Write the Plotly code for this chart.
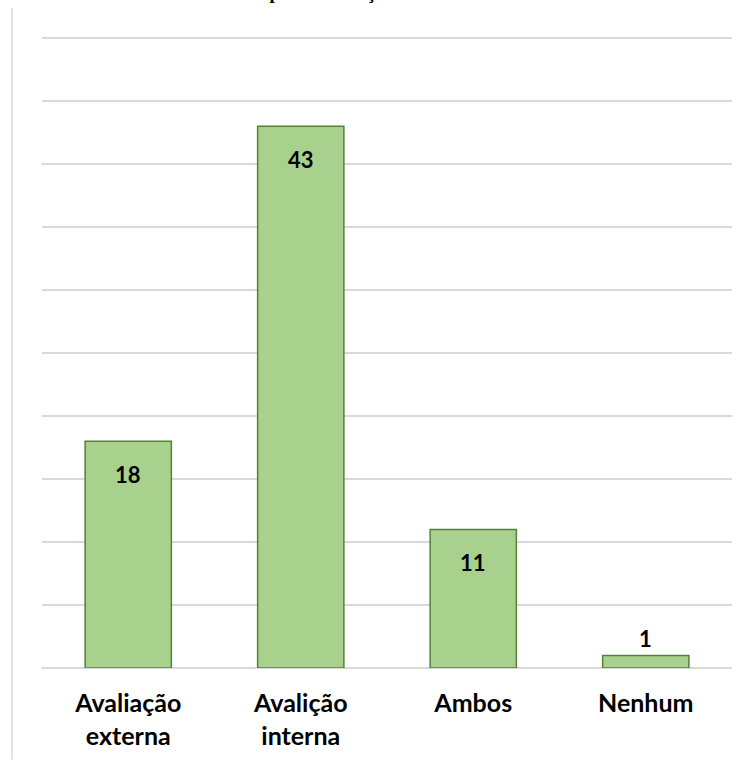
import plotly.graph_objects as go

# Categories and counts
categories = ["Avaliação<br>externa", "Avalição<br>interna", "Ambos", "Nenhum"]
counts = [18, 43, 11, 1]
label_inside = [True, True, True, False]

W, H = 747, 762
ml, mr, mt, mb = 42, 15, 37, 92
plot_h = H - mt - mb
plot_w = W - ml - mr
y_top = 50.08

fig = go.Figure(
    go.Bar(
        x=categories,
        y=counts,
        marker=dict(color="#A9D18E", line=dict(color="#548235", width=1.5)),
        hoverinfo="skip",
    )
)

# Value labels: inside near the bar top, or just above a short bar
for cat, val, inside in zip(categories, counts, label_inside):
    fig.add_annotation(
        x=cat, y=val, text=f"<b>{val}</b>",
        showarrow=False,
        yanchor="top" if inside else "bottom",
        yshift=-18 if inside else 1,
        font=dict(family="Lato", size=22, color="#000000"),
    )

# Chart frame line on the left
fig.add_shape(
    type="line", xref="paper", yref="paper",
    x0=(12 - ml) / plot_w, x1=(12 - ml) / plot_w,
    y0=-mb / plot_h, y1=(H - mb - 8) / plot_h,
    line=dict(color="#d9d9d9", width=1.5),
)

# Chart title
fig.add_annotation(
    text="<b>Tipo de avaliação</b>",
    xref="paper", yref="paper",
    x=(250 - ml) / plot_w, y=(H - mb - 5) / plot_h,
    xanchor="left", yanchor="bottom",
    showarrow=False,
    font=dict(family="Liberation Serif", size=19, color="#000000"),
)

fig.update_layout(
    width=W, height=H,
    margin=dict(l=ml, r=mr, t=mt, b=mb),
    paper_bgcolor="#ffffff",
    plot_bgcolor="#ffffff",
    bargap=0.5,
    showlegend=False,
)
fig.update_xaxes(
    showgrid=False, showline=False, ticks="",
    tickfont=dict(family="Lato", size=25, color="#000000"),
    tickprefix="<b>", ticksuffix="</b>",
    ticklabelstandoff=18,
)
fig.update_yaxes(
    range=[0, y_top], dtick=5, showticklabels=False,
    showgrid=True, gridcolor="#d9d9d9", gridwidth=1.5,
    zeroline=True, zerolinecolor="#d9d9d9", zerolinewidth=1.5,
    showline=False, ticks="",
)

fig.write_html("out.html")
